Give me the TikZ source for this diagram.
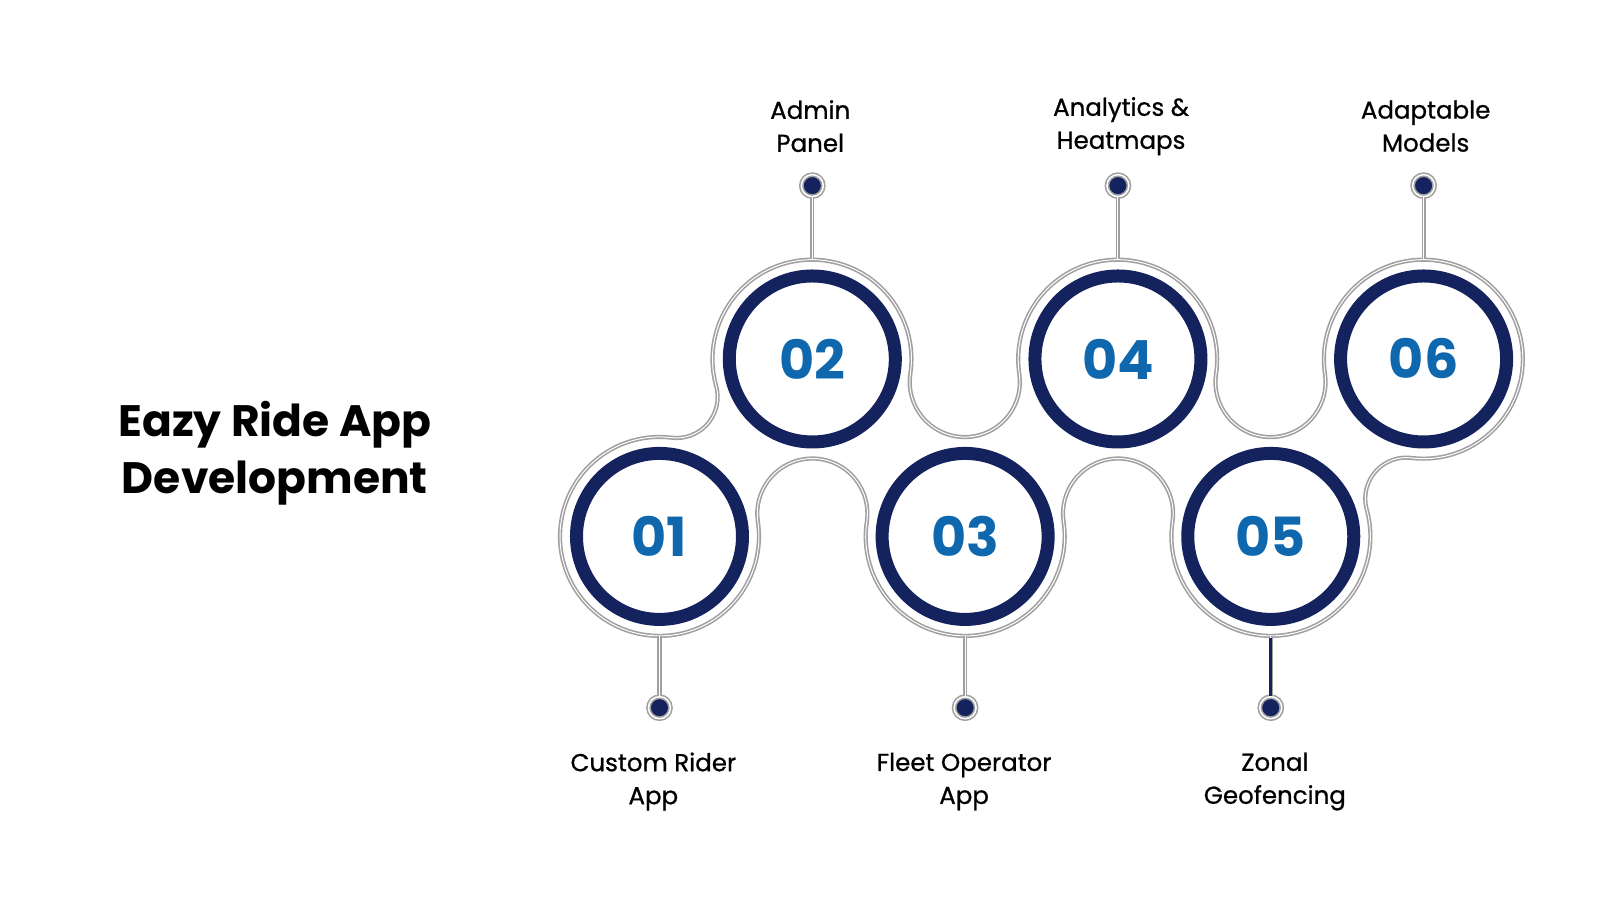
\documentclass[tikz,border=0pt]{standalone}
\usepackage{fontspec}
\setmainfont{Poppins}
\newfontfamily\labfont[FakeBold=0.8]{Poppins}
\definecolor{navy}{HTML}{14235E}
\definecolor{numblue}{HTML}{0F67AE}
\definecolor{outl}{HTML}{A0A0A0}
\begin{document}
\begin{tikzpicture}[x=1.0256pt,y=-1.0256pt,
  outline/.style={draw=outl,double=white,double distance=1pt,line width=1.6pt},
  ring/.style={circle,draw=navy,line width=13pt,minimum size=166pt,inner sep=0pt,
     font=\fontsize{54}{60}\selectfont\bfseries,text=numblue},
  dotnode/.style={circle,fill=navy,minimum size=22pt,inner sep=0pt,draw=outl,double=white,double distance=1.5pt,line width=1.6pt},
  lab/.style={align=center,font=\fontsize{24.5}{33}\selectfont\labfont},
  stem/.style={outline}]
\useasboundingbox (0,0) rectangle (1560,877.5);
% outline
\draw[outline]
  (643,523) ++(-83:97) arc[start angle=-83,end angle=-368.5,radius=97]
  arc[start angle=171.5,end angle=368.5,radius=53.7]
  arc[start angle=188.5,end angle=-8.5,radius=97]
  arc[start angle=171.5,end angle=368.5,radius=53.7]
  arc[start angle=188.5,end angle=-15.6,radius=97]
  arc[start angle=164.4,end angle=277,radius=40]
  arc[start angle=97,end angle=-188.5,radius=97]
  arc[start angle=-8.5,end angle=188.5,radius=53.7]
  arc[start angle=8.5,end angle=-188.5,radius=97]
  arc[start angle=-8.5,end angle=188.5,radius=53.7]
  arc[start angle=8.5,end angle=-195.6,radius=97]
  arc[start angle=-15.6,end angle=97,radius=40] -- cycle;
% rings
\node[ring] (c1) at (643,523) {01};
\node[ring] (c2) at (792,350) {02};
\node[ring] (c3) at (941,523) {03};
\node[ring] (c4) at (1090,350) {04};
\node[ring] (c5) at (1239,523) {05};
\node[ring] (c6) at (1388,350) {06};
% stems and dots
\foreach \n/\x in {2/792,4/1090,6/1388}{
  \coordinate (s\n) at (\x,253);
  \node[dotnode] (d\n) at (\x,181) {};
  \draw[stem] (s\n) -- (d\n);
}
\foreach \n/\x in {1/643,3/941,5/1239}{
  \coordinate (s\n) at (\x,620);
  \node[dotnode] (d\n) at (\x,690) {};
  \draw[stem] (s\n) -- (d\n);
}
\draw[navy,line width=3pt] (1239,622) -- (d5);
% labels
\node[lab] (l2) at (790,123) {Admin\\Panel};
\node[lab] (l4) at (1093,123) {Analytics \&\\Heatmaps};
\node[lab] (l6) at (1390,123) {Adaptable\\Models};
\node[lab] (l1) at (637,762) {Custom Rider\\App};
\node[lab] (l3) at (940,762) {Fleet Operator\\App};
\node[lab] (l5) at (1243,762) {Zonal\\Geofencing};
\node[align=center,font=\fontsize{44}{57}\selectfont\bfseries] (title) at (268,442) {Eazy Ride App\\Development};
\end{tikzpicture}
\end{document}
